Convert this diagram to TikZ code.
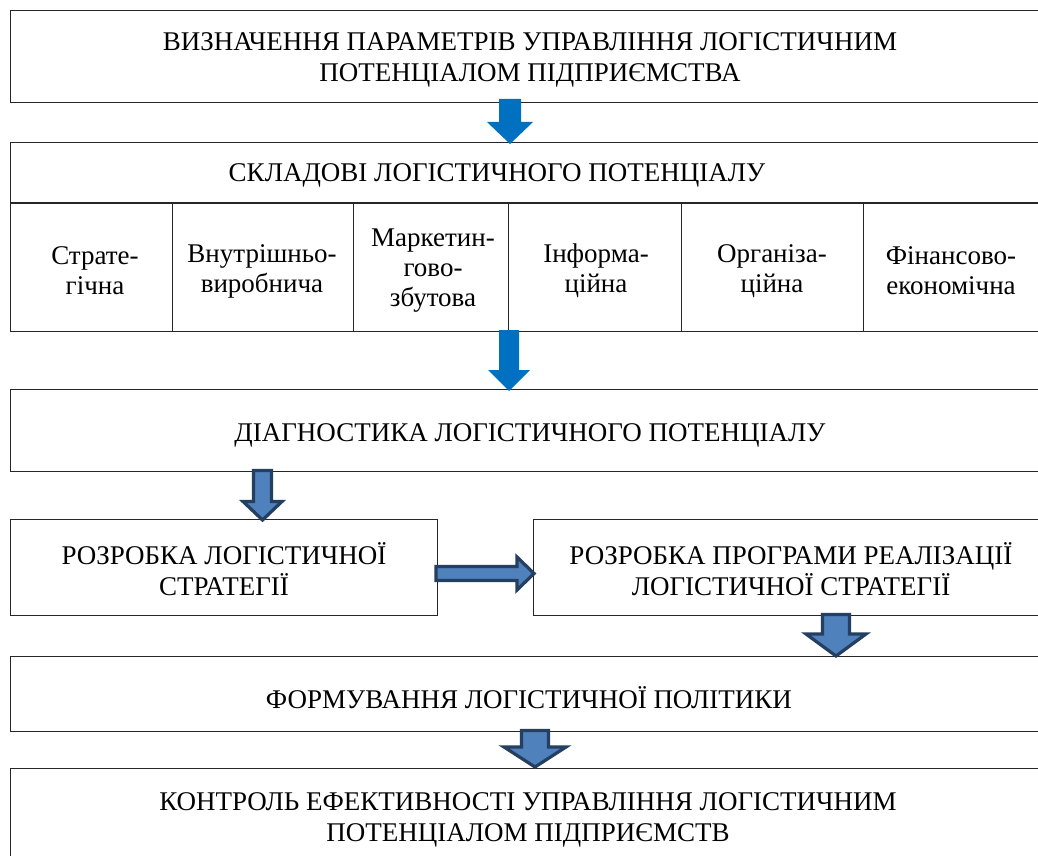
\documentclass[tikz,border=0pt]{standalone}
\usepackage{fontspec}
\setmainfont{Liberation Serif}
\definecolor{arrowblue}{HTML}{0070C0}
\definecolor{arrowfill}{HTML}{4F81BD}
\definecolor{arrowline}{HTML}{243F60}
\begin{document}
\begin{tikzpicture}[x=1pt,y=-1pt,
  box/.style={draw=black!85, line width=1.3pt, inner sep=0pt, anchor=north west},
  lbl/.style={font=\fontsize{27}{31}\selectfont, align=center, inner sep=0pt},
  cell/.style={draw=black!85, line width=1pt, anchor=north west, minimum height=128pt,
               inner sep=0pt},
  celltext/.style={font=\fontsize{27}{30}\selectfont, align=center, inner sep=0pt},
  solidarrow/.style={fill=arrowblue, draw=none},
  framedarrow/.style={fill=arrowfill, draw=arrowline, line width=3.2pt, line join=miter}]
\useasboundingbox (0,0) rectangle (1038,856);
\fill[white] (0,0) rectangle (1038,856);

% boxes
\node[box, minimum width=1040pt, minimum height=92pt] (b1) at (10,10) {};
\node[lbl] (l1) at (530,60) {ВИЗНАЧЕННЯ ПАРАМЕТРІВ УПРАВЛІННЯ ЛОГІСТИЧНИМ\\ПОТЕНЦІАЛОМ ПІДПРИЄМСТВА};
\node[box, minimum width=1040pt, minimum height=60pt] (b2) at (10,142) {};
\node[lbl] (l2) at (497,175) {СКЛАДОВІ ЛОГІСТИЧНОГО ПОТЕНЦІАЛУ};

\node[cell, minimum width=162pt] (c1) at (10,203) {};
\node[cell, minimum width=181pt] (c2) at (172,203) {};
\node[cell, minimum width=155pt] (c3) at (353,203) {};
\node[cell, minimum width=173pt] (c4) at (508,203) {};
\node[cell, minimum width=182pt] (c5) at (681,203) {};
\node[cell, minimum width=182pt] (c6) at (863,203) {};
\node[celltext] (t1) at (95,271) {Страте-\\гічна};
\node[celltext] (t2) at (262,271) {Внутрішньо-\\виробнича};
\node[celltext] (t3) at (433,271) {Маркетин-\\гово-\\збутова};
\node[celltext] (t4) at (596,271) {Інформа-\\ційна};
\node[celltext] (t5) at (772,271) {Організа-\\ційна};
\node[celltext] (t6) at (951,271) {Фінансово-\\економічна};

\node[box, minimum width=1040pt, minimum height=82pt] (b3) at (10,389) {};
\node[lbl] (l3) at (530,435) {ДІАГНОСТИКА ЛОГІСТИЧНОГО ПОТЕНЦІАЛУ};
\node[box, minimum width=427pt, minimum height=96pt] (b4) at (10,519) {};
\node[lbl] (l4) at (224,569) {РОЗРОБКА ЛОГІСТИЧНОЇ\\СТРАТЕГІЇ};
\node[box, minimum width=512pt, minimum height=96pt] (b5) at (533,519) {};
\node[lbl] (l5) at (791,569) {РОЗРОБКА ПРОГРАМИ РЕАЛІЗАЦІЇ\\ЛОГІСТИЧНОЇ СТРАТЕГІЇ};
\node[box, minimum width=1040pt, minimum height=75pt] (b6) at (10,656) {};
\node[lbl] (l6) at (529,698) {ФОРМУВАННЯ ЛОГІСТИЧНОЇ ПОЛІТИКИ};
\node[box, minimum width=1040pt, minimum height=100pt] (b7) at (10,768) {};
\node[lbl] (l7) at (528,820) {КОНТРОЛЬ ЕФЕКТИВНОСТІ УПРАВЛІННЯ ЛОГІСТИЧНИМ\\ПОТЕНЦІАЛОМ ПІДПРИЄМСТВ};

% block arrows
\path[solidarrow] (499,99) -- (521,99) -- (521,122) -- (533,122) -- (510,144)
  -- (487,122) -- (499,122) -- cycle;
\path[solidarrow] (499,330) -- (519,330) -- (519,370) -- (530,370) -- (509,391)
  -- (488,370) -- (499,370) -- cycle;
\draw[framedarrow] (253.5,470.5) -- (271.5,470.5) -- (271.5,501.5) -- (282,501.5)
  -- (262.5,520) -- (243,501.5) -- (253.5,501.5) -- cycle;
\draw[framedarrow] (436,566.5) -- (517,566.5) -- (517,557) -- (534,573.5)
  -- (517,590) -- (517,580.5) -- (436,580.5) -- cycle;
\draw[framedarrow] (822.5,614.5) -- (849.5,614.5) -- (849.5,634) -- (866,634)
  -- (836,656) -- (806,634) -- (822.5,634) -- cycle;
\draw[framedarrow] (521.5,730.5) -- (548.5,730.5) -- (548.5,747) -- (566,747)
  -- (535,767) -- (504,747) -- (521.5,747) -- cycle;
\end{tikzpicture}
\end{document}
